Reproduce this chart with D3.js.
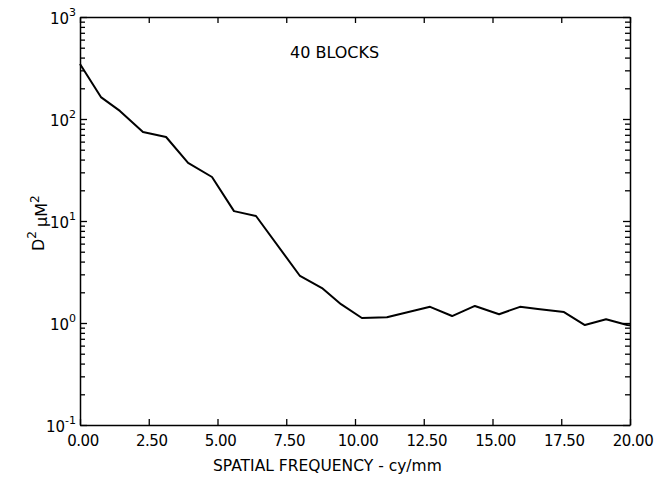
<!DOCTYPE html>
<html lang="en">
<head>
  <meta charset="UTF-8">
  <title>40 Blocks spectrum</title>
  <script src="https://d3js.org/d3.v7.min.js"></script>
  <style>
    body { margin: 0; background: #fff; }
    svg text { font-family: "DejaVu Sans", "Liberation Sans", sans-serif; fill: #000; }
    .domain { stroke: #000; stroke-width: 1.5px; }
    .tick line { stroke: #000; stroke-width: 1.3px; }
  </style>
</head>
<body>
<svg width="661" height="480"></svg>
<script>
  // spatial frequency (cy/mm) and D^2 (um^2)
  const freq = [0, 0.76, 1.45, 2.29, 3.13, 3.93, 4.8, 5.6, 6.4, 8.0, 8.8, 9.49, 10.25, 11.16,
                12.73, 13.53, 14.36, 15.24, 16.0, 16.65, 17.6, 18.36, 19.13, 19.9, 20.0];
  const power = [346, 164, 120, 74.6, 66.6, 37.1, 27.0, 12.5, 11.2, 2.89, 2.2, 1.53, 1.12, 1.14,
                 1.44, 1.17, 1.47, 1.22, 1.44, 1.37, 1.28, 0.955, 1.09, 0.955, 0.95];
  const xTicks = [0, 2.5, 5, 7.5, 10, 12.5, 15, 17.5, 20];
  const yExps = [-1, 0, 1, 2, 3];

  const svg = d3.select("svg");
  const mLeft = 80, mRight = 630, mTop = 17, mBottom = 425;

  const x = d3.scaleLinear().domain([0, 20]).range([mLeft, mRight]);
  const y = d3.scaleLog().domain([0.1, 1000]).range([mBottom, mTop]);

  const majorY = yExps.map(e => Math.pow(10, e));
  const minorY = [];
  yExps.slice(0, -1).forEach(e => {
    for (let k = 2; k <= 9; k++) minorY.push(k * Math.pow(10, e));
  });

  // axes, ticks pointing inward
  svg.append("g").attr("transform", `translate(0,${mBottom})`)
    .call(d3.axisBottom(x).tickValues(xTicks).tickSizeInner(-6).tickSizeOuter(0).tickFormat(""));
  svg.append("g").attr("transform", `translate(0,${mTop})`)
    .call(d3.axisTop(x).tickValues(xTicks).tickSizeInner(-6).tickSizeOuter(0).tickFormat(""));
  svg.append("g").attr("transform", `translate(${mLeft},0)`)
    .call(d3.axisLeft(y).tickValues(majorY).tickSizeInner(-7).tickSizeOuter(0).tickFormat(""));
  svg.append("g").attr("transform", `translate(${mLeft},0)`)
    .call(d3.axisLeft(y).tickValues(minorY).tickSizeInner(-5).tickSizeOuter(0).tickFormat(""))
    .select(".domain").remove();
  svg.append("g").attr("transform", `translate(${mRight},0)`)
    .call(d3.axisRight(y).tickValues(majorY).tickSizeInner(-7).tickSizeOuter(0).tickFormat(""));
  svg.append("g").attr("transform", `translate(${mRight},0)`)
    .call(d3.axisRight(y).tickValues(minorY).tickSizeInner(-5).tickSizeOuter(0).tickFormat(""))
    .select(".domain").remove();

  // x tick labels
  svg.append("g").selectAll("text")
    .data(xTicks)
    .enter()
    .append("text")
    .attr("x", d => x(d) + 3)
    .attr("y", 446)
    .attr("text-anchor", "middle")
    .attr("font-size", "15px")
    .attr("letter-spacing", "-0.5px")
    .text(d => d.toFixed(2));

  // y tick labels: 10 with superscript exponent
  const yl = svg.append("g").selectAll("text")
    .data(yExps)
    .enter()
    .append("text")
    .attr("x", 76)
    .attr("y", d => y(Math.pow(10, d)) + 7)
    .attr("text-anchor", "end")
    .attr("font-size", "15px");
  yl.append("tspan").text("10");
  yl.append("tspan").attr("dy", -8).attr("font-size", "11px").text(d => d);

  // data line
  const line = d3.line()
    .x((d, i) => x(freq[i]))
    .y(d => y(d));
  svg.append("path")
    .datum(power)
    .attr("fill", "none")
    .attr("stroke", "#000")
    .attr("stroke-width", 2)
    .attr("stroke-linejoin", "round")
    .attr("d", line);

  svg.append("text")
    .attr("x", 290).attr("y", 58)
    .attr("font-size", "16px")
    .text("40 BLOCKS");

  svg.append("text")
    .attr("x", 213).attr("y", 471)
    .attr("font-size", "15.5px")
    .text("SPATIAL FREQUENCY - cy/mm");

  const yt = svg.append("text")
    .attr("transform", "translate(44,251) rotate(-90)")
    .attr("font-size", "16px");
  yt.append("tspan").text("D");
  yt.append("tspan").attr("dy", -8).attr("font-size", "12px").text("2");
  yt.append("tspan").attr("dx", 4).attr("dy", 11).text("\u03bcM");
  yt.append("tspan").attr("dy", -8).attr("font-size", "12px").text("2");
</script>
</body>
</html>
